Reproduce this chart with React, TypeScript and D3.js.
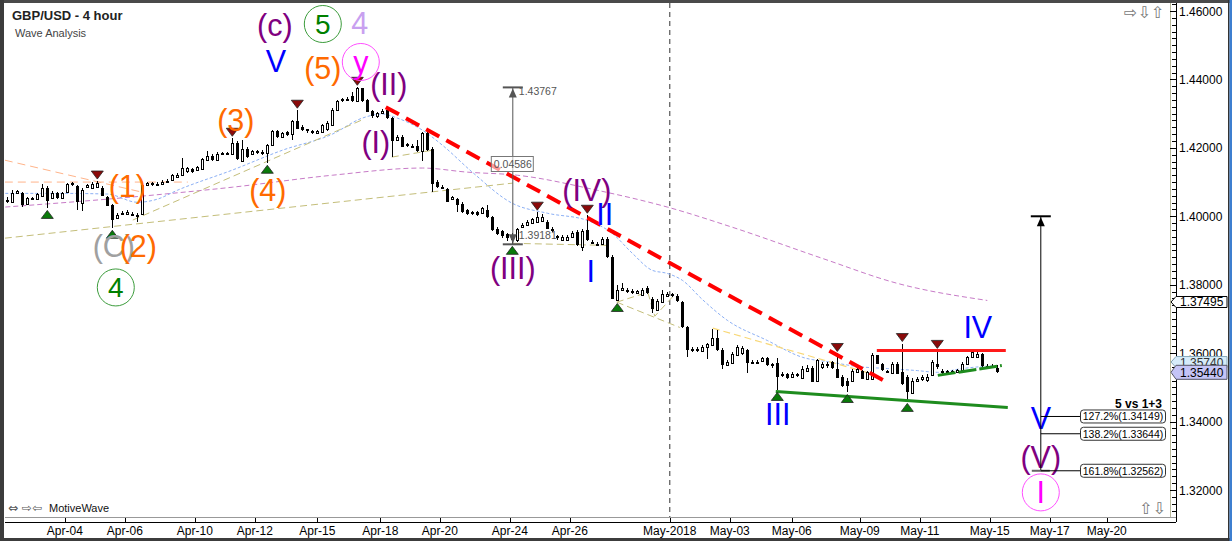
import React from 'react';
import * as d3 from 'd3';

type Candle = [number, number, number, number]; // open, high, low, close

const candles: Candle[] = [
  [1.4049,1.4057,1.4039,1.4042],[1.4042,1.4076,1.4038,1.4068],[1.4067,1.4076,1.4065,1.4074],[1.4068,1.4070,1.4027,1.4032],
  [1.4037,1.4056,1.4032,1.4054],[1.4049,1.4056,1.4047,1.4052],[1.4050,1.4067,1.4047,1.4064],[1.4062,1.4094,1.4059,1.4084],
  [1.4084,1.4088,1.4023,1.4047],[1.4052,1.4073,1.4050,1.4068],[1.4067,1.4070,1.4050,1.4052],[1.4052,1.4070,1.4050,1.4068],
  [1.4071,1.4097,1.4070,1.4094],[1.4096,1.4100,1.4088,1.4091],[1.4089,1.4091,1.4018,1.4042],[1.4039,1.4082,1.4015,1.4078],
  [1.4084,1.4094,1.4082,1.4090],[1.4081,1.4100,1.4079,1.4094],[1.4084,1.4103,1.4082,1.4096],[1.4084,1.4088,1.4059,1.4062],
  [1.4057,1.4059,1.4029,1.4032],[1.4032,1.4035,1.3965,1.3988],[1.3994,1.4009,1.3991,1.4003],[1.4006,1.4015,1.4003,1.4010],
  [1.4006,1.4018,1.4003,1.4013],[1.4008,1.4012,1.4000,1.4003],[1.4003,1.4009,1.3984,1.3998],[1.4006,1.4097,1.4003,1.4091],
  [1.4091,1.4100,1.4088,1.4096],[1.4096,1.4100,1.4088,1.4091],[1.4091,1.4100,1.4088,1.4095],[1.4093,1.4106,1.4091,1.4100],
  [1.4100,1.4108,1.4096,1.4104],[1.4106,1.4123,1.4103,1.4120],[1.4115,1.4126,1.4111,1.4122],[1.4120,1.4169,1.4117,1.4140],
  [1.4130,1.4144,1.4126,1.4140],[1.4138,1.4141,1.4126,1.4130],[1.4135,1.4146,1.4132,1.4143],[1.4137,1.4170,1.4135,1.4167],
  [1.4164,1.4191,1.4161,1.4176],[1.4176,1.4182,1.4161,1.4164],[1.4164,1.4187,1.4161,1.4182],[1.4182,1.4187,1.4179,1.4185],
  [1.4185,1.4187,1.4179,1.4183],[1.4184,1.4228,1.4182,1.4215],[1.4215,1.4220,1.4164,1.4169],[1.4164,1.4223,1.4161,1.4198],
  [1.4198,1.4202,1.4170,1.4174],[1.4182,1.4193,1.4179,1.4191],[1.4191,1.4193,1.4182,1.4185],[1.4188,1.4193,1.4179,1.4182],
  [1.4185,1.4211,1.4155,1.4208],[1.4208,1.4252,1.4205,1.4250],[1.4249,1.4252,1.4228,1.4231],[1.4232,1.4246,1.4231,1.4244],
  [1.4247,1.4249,1.4234,1.4237],[1.4240,1.4281,1.4223,1.4279],[1.4279,1.4310,1.4255,1.4257],[1.4261,1.4266,1.4249,1.4252],
  [1.4254,1.4255,1.4243,1.4247],[1.4250,1.4252,1.4240,1.4244],[1.4243,1.4252,1.4240,1.4249],[1.4247,1.4269,1.4246,1.4267],
  [1.4255,1.4278,1.4249,1.4272],[1.4267,1.4316,1.4264,1.4312],[1.4312,1.4340,1.4310,1.4338],[1.4338,1.4345,1.4334,1.4342],
  [1.4342,1.4348,1.4338,1.4343],[1.4352,1.4363,1.4334,1.4337],[1.4337,1.4377,1.4335,1.4374],[1.4374,1.4376,1.4334,1.4337],
  [1.4340,1.4343,1.4305,1.4305],[1.4307,1.4310,1.4287,1.4291],[1.4291,1.4305,1.4287,1.4301],[1.4301,1.4313,1.4299,1.4307],
  [1.4310,1.4319,1.4284,1.4286],[1.4286,1.4290,1.4174,1.4218],[1.4223,1.4237,1.4220,1.4232],[1.4232,1.4237,1.4202,1.4203],
  [1.4210,1.4214,1.4202,1.4203],[1.4206,1.4211,1.4199,1.4201],[1.4205,1.4223,1.4187,1.4190],[1.4190,1.4247,1.4161,1.4242],
  [1.4242,1.4246,1.4190,1.4193],[1.4198,1.4202,1.4070,1.4096],[1.4100,1.4106,1.4082,1.4086],[1.4086,1.4091,1.4079,1.4081],
  [1.4081,1.4082,1.4041,1.4042],[1.4050,1.4059,1.4047,1.4056],[1.4050,1.4053,1.4013,1.4032],[1.4037,1.4041,1.4009,1.4013],
  [1.4018,1.4021,1.4003,1.4005],[1.4008,1.4015,1.4003,1.4012],[1.4012,1.4015,1.4000,1.4003],[1.4008,1.4027,1.4006,1.4023],
  [1.4018,1.4032,1.3994,1.3998],[1.3998,1.4000,1.3956,1.3959],[1.3964,1.3968,1.3946,1.3950],[1.3956,1.3959,1.3936,1.3940],
  [1.3947,1.3950,1.3927,1.3935],[1.3944,1.3950,1.3918,1.3930],[1.3930,1.3965,1.3924,1.3962],[1.3967,1.3980,1.3965,1.3974],
  [1.3974,1.3988,1.3971,1.3984],[1.3979,1.3994,1.3977,1.3991],[1.3984,1.4012,1.3983,1.3998],[1.3986,1.4006,1.3986,1.3998],
  [1.3984,1.3988,1.3962,1.3964],[1.3964,1.3968,1.3953,1.3959],[1.3942,1.3946,1.3930,1.3936],[1.3932,1.3946,1.3930,1.3940],
  [1.3930,1.3946,1.3927,1.3940],[1.3938,1.3956,1.3936,1.3951],[1.3954,1.3959,1.3912,1.3915],[1.3910,1.3962,1.3900,1.3957],
  [1.3959,1.4003,1.3927,1.3930],[1.3925,1.3930,1.3918,1.3920],[1.3920,1.3924,1.3915,1.3918],[1.3920,1.3939,1.3918,1.3935],
  [1.3935,1.3939,1.3877,1.3881],[1.3881,1.3886,1.3757,1.3759],[1.3756,1.3798,1.3751,1.3786],[1.3782,1.3804,1.3781,1.3789],
  [1.3784,1.3790,1.3775,1.3779],[1.3781,1.3787,1.3772,1.3776],[1.3775,1.3784,1.3772,1.3781],[1.3769,1.3790,1.3766,1.3784],
  [1.3789,1.3795,1.3772,1.3774],[1.3757,1.3763,1.3716,1.3728],[1.3725,1.3757,1.3722,1.3751],[1.3749,1.3784,1.3746,1.3772],
  [1.3766,1.3778,1.3763,1.3773],[1.3772,1.3775,1.3763,1.3767],[1.3767,1.3772,1.3749,1.3751],[1.3749,1.3751,1.3673,1.3676],
  [1.3676,1.3678,1.3588,1.3608],[1.3611,1.3617,1.3602,1.3608],[1.3608,1.3617,1.3602,1.3611],[1.3606,1.3623,1.3602,1.3618],
  [1.3616,1.3631,1.3582,1.3626],[1.3623,1.3670,1.3620,1.3643],[1.3643,1.3667,1.3605,1.3608],[1.3608,1.3614,1.3555,1.3564],
  [1.3564,1.3579,1.3561,1.3574],[1.3570,1.3602,1.3567,1.3597],[1.3594,1.3623,1.3591,1.3617],[1.3599,1.3620,1.3596,1.3614],
  [1.3608,1.3611,1.3541,1.3570],[1.3573,1.3579,1.3567,1.3570],[1.3572,1.3579,1.3567,1.3573],[1.3576,1.3588,1.3573,1.3585],
  [1.3585,1.3588,1.3561,1.3564],[1.3567,1.3570,1.3558,1.3563],[1.3570,1.3585,1.3491,1.3529],[1.3535,1.3544,1.3529,1.3539],
  [1.3538,1.3541,1.3523,1.3526],[1.3529,1.3544,1.3526,1.3539],[1.3535,1.3541,1.3529,1.3538],[1.3529,1.3561,1.3526,1.3554],
  [1.3549,1.3564,1.3547,1.3558],[1.3558,1.3561,1.3515,1.3518],[1.3518,1.3582,1.3515,1.3579],[1.3559,1.3573,1.3555,1.3569],
  [1.3567,1.3573,1.3558,1.3564],[1.3573,1.3576,1.3553,1.3555],[1.3555,1.3599,1.3526,1.3530],[1.3530,1.3535,1.3500,1.3504],
  [1.3520,1.3526,1.3485,1.3506],[1.3520,1.3555,1.3515,1.3549],[1.3545,1.3558,1.3541,1.3554],[1.3549,1.3552,1.3523,1.3525],
  [1.3525,1.3549,1.3523,1.3545],[1.3525,1.3599,1.3523,1.3594],[1.3594,1.3596,1.3567,1.3569],[1.3567,1.3570,1.3547,1.3549],
  [1.3549,1.3552,1.3541,1.3547],[1.3542,1.3573,1.3541,1.3569],[1.3569,1.3573,1.3538,1.3540],[1.3545,1.3628,1.3506,1.3511],
  [1.3530,1.3535,1.3459,1.3486],[1.3486,1.3526,1.3485,1.3520],[1.3520,1.3529,1.3515,1.3525],[1.3523,1.3535,1.3520,1.3529],
  [1.3520,1.3538,1.3515,1.3530],[1.3535,1.3579,1.3532,1.3574],[1.3569,1.3608,1.3555,1.3559],[1.3549,1.3555,1.3538,1.3544],
  [1.3544,1.3552,1.3541,1.3547],[1.3547,1.3552,1.3541,1.3544],[1.3545,1.3555,1.3544,1.3552],[1.3552,1.3573,1.3549,1.3569],
  [1.3569,1.3593,1.3567,1.3588],[1.3588,1.3608,1.3588,1.3603],[1.3588,1.3602,1.3588,1.3597],[1.3597,1.3599,1.3558,1.3561],
  [1.3561,1.3567,1.3555,1.3558],[1.3561,1.3567,1.3558,1.3563],[1.3557,1.3564,1.3541,1.3544],
];

const dateTicks: [string, number][] = [
  ['Apr-04', 11.5], ['Apr-06', 23.5], ['Apr-10', 37.5], ['Apr-12', 49.5], ['Apr-15', 62], ['Apr-18', 74.6],
  ['Apr-20', 86.5], ['Apr-24', 100.5], ['Apr-26', 112.5], ['May-2018', 132.5], ['May-03', 144.5], ['May-06', 156.9],
  ['May-09', 170.5], ['May-11', 182.5], ['May-15', 196.5], ['May-17', 208.5], ['May-20', 219.9],
];

const priceTicks = [1.32, 1.34, 1.36, 1.38, 1.40, 1.42, 1.44, 1.46];

const fastMA: [number, number][] = [
  [-0.4, 1.4067], [10, 1.4067], [20, 1.4065], [26, 1.4041], [30, 1.4050], [34, 1.4076], [45, 1.4135], [55, 1.4193],
  [65, 1.4240], [71, 1.4287], [75, 1.4299], [78, 1.4287], [83, 1.4252], [87, 1.4208], [93, 1.4129], [101, 1.4038],
  [108, 1.4009], [116, 1.3988], [121, 1.3950], [125, 1.3892], [129, 1.3842], [132, 1.3833], [135, 1.3813],
  [139, 1.3757], [144, 1.3696], [152, 1.3637], [159, 1.3588], [165, 1.3573], [170, 1.3561], [176, 1.3555],
  [182, 1.3549], [186, 1.3544], [191, 1.3555], [198, 1.3564],
];

const slowMA: [number, number][] = [
  [-0.4, 1.4027], [27, 1.4059], [45, 1.4085], [65, 1.4120], [83, 1.4141], [92, 1.4129], [102, 1.4120],
  [118, 1.4076], [132, 1.4027], [145, 1.3968], [163, 1.3877], [178, 1.3804], [196, 1.3754],
];

// thin wave connection lines [i, price]
const oliveLines: [number, number][][] = [
  [[-0.5, 1.3936], [101.1, 1.4097]],
  [[25.1, 1.3989], [71, 1.4282]],
  [[76.9, 1.4173], [85, 1.4193]],
  [[101.1, 1.3921], [119.9, 1.3915]],
  [[121.9, 1.3749], [128.1, 1.3778], [129.5, 1.3708], [133.7, 1.3775]],
  [[121.9, 1.3749], [134.5, 1.3675]],
];
const yellowLine: [number, number][] = [[141.1, 1.3673], [172.5, 1.3541]];
const orangeLines: [number, number][][] = [
  [[-0.5, 1.4164], [27.1, 1.4070]],
  [[-0.5, 1.4100], [36.1, 1.4100]],
];

const redTrend: [number, number][] = [[75.7, 1.4319], [175.9, 1.3515]];
const redFlat: [number, number][] = [[173.9, 1.3608], [199.7, 1.3608]];
const greenLong: [number, number][] = [[153.7, 1.3488], [200.1, 1.3441]];
const greenShort: [number, number][] = [[186.1, 1.3535], [198.9, 1.3564]];

const topMarks = [18, 45, 58, 70, 106, 116, 166, 179, 186];
const bottomMarks = [8, 21, 52, 101, 122, 154, 168, 180];

type Label = { t: string; i: number; p: number; c: string; ring?: string; fs?: number };
const waveLabels: Label[] = [
  { t: '(c)', i: 53.5, p: 1.4559, c: '#800080' },
  { t: '5', i: 63.1, p: 1.4562, c: '#008000', ring: '#3c9c3c', fs: 28 },
  { t: '4', i: 70.5, p: 1.4565, c: '#C8A0F0' },
  { t: 'V', i: 53.7, p: 1.4454, c: '#0000FF' },
  { t: '(5)', i: 63.1, p: 1.4433, c: '#FF6A00' },
  { t: 'y', i: 70.7, p: 1.4451, c: '#FF00FF', ring: '#FF50FF' },
  { t: '(II)', i: 76.3, p: 1.4386, c: '#800080' },
  { t: '(I)', i: 73.7, p: 1.4217, c: '#800080' },
  { t: '(3)', i: 45.7, p: 1.4281, c: '#FF6A00' },
  { t: '(4)', i: 52.1, p: 1.4076, c: '#FF6A00' },
  { t: '(1)', i: 24, p: 1.4088, c: '#FF6A00' },
  { t: '(C)', i: 21.3, p: 1.3912, c: '#A0A0A0' },
  { t: '(2)', i: 26.2, p: 1.3912, c: '#FF6A00' },
  { t: '4', i: 21.7, p: 1.3792, c: '#008000', ring: '#3c9c3c', fs: 28 },
  { t: '(III)', i: 101.1, p: 1.3848, c: '#800080' },
  { t: '(IV)', i: 115.9, p: 1.4076, c: '#800080' },
  { t: 'II', i: 119.5, p: 1.4006, c: '#0000FF' },
  { t: 'I', i: 116.7, p: 1.3839, c: '#0000FF' },
  { t: 'III', i: 154.1, p: 1.3421, c: '#0000FF' },
  { t: 'IV', i: 194.1, p: 1.3675, c: '#0000FF' },
  { t: 'V', i: 206.7, p: 1.3409, c: '#0000FF' },
  { t: '(V)', i: 206.7, p: 1.3295, c: '#800080' },
  { t: 'I', i: 206.7, p: 1.3193, c: '#FF00FF', ring: '#FF50FF' },
];

const measureLeft = { i: 101.1, top: 1.43767, bottom: 1.39181, diff: '0.04586' };
const measureRight = { i: 206.7, top: 1.4000, bottom: 1.32562 };
const fibLevels: [string, number][] = [
  ['127.2%(1.34149)', 1.34149],
  ['138.2%(1.33644)', 1.33644],
  ['161.8%(1.32562)', 1.32562],
];
const lastPrice = 1.3544;
const refPrice = 1.37495;
const bidPrice = 1.3574;

const FONT = "'Liberation Sans', Arial, Helvetica, sans-serif";

export default function App() {
  const W = 1232, H = 541;
  const x = d3.scaleLinear().domain([0, 198]).range([7.3, 997.3]);
  const y = d3.scaleLinear().domain([1.32, 1.46]).range([490, 11]);
  const line = d3.line<[number, number]>().x(d => x(d[0])).y(d => y(d[1]));
  const smooth = d3.line<[number, number]>().x(d => x(d[0])).y(d => y(d[1])).curve(d3.curveMonotoneX);
  const minor = d3.range(1.314, 1.4625, 0.002);
  const axX = 1176;

  const tag = (yc: number, h: number) =>
    `M1171,${yc} L1176,${yc - h / 2} L1227,${yc - h / 2} L1227,${yc + h / 2} L1176,${yc + h / 2} Z`;

  const mlx = x(measureLeft.i);
  const mly1 = y(measureLeft.top), mly2 = y(measureLeft.bottom);
  const mrx = x(measureRight.i);
  const mry1 = y(measureRight.top), mry2 = y(measureRight.bottom);

  return (
    <svg width={W} height={H} viewBox={`0 0 ${W} ${H}`}
      style={{ position: 'absolute', left: 0, top: 0, background: '#fff', fontFamily: FONT }}>
      <defs>
        <clipPath id="plot"><rect x={5} y={3} width={1165} height={514} /></clipPath>
      </defs>
      <rect x={0} y={0} width={W} height={H} fill="#fff" />

      <g clipPath="url(#plot)">
        {/* May-2018 separator */}
        <line x1={x(132.5)} x2={x(132.5)} y1={3} y2={517} stroke="#333" strokeDasharray="5,4" />

        {/* moving averages */}
        <path d={smooth(slowMA) || ''} fill="none" stroke="#C77BC7" strokeWidth={1} strokeDasharray="5,3" />
        <path d={smooth(fastMA) || ''} fill="none" stroke="#8CB0F5" strokeWidth={1} strokeDasharray="3,2" />

        {/* wave guide lines */}
        {oliveLines.map((l, k) => (
          <path key={'o' + k} d={line(l) || ''} fill="none" stroke="#C4BE7A" strokeWidth={1} strokeDasharray="7,4" />
        ))}
        {orangeLines.map((l, k) => (
          <path key={'or' + k} d={line(l) || ''} fill="none" stroke="#FFB48A" strokeWidth={1} strokeDasharray="8,5" />
        ))}
        <path d={line(yellowLine) || ''} fill="none" stroke="#F8D878" strokeWidth={1.2} strokeDasharray="7,4" />

        {/* candles */}
        {candles.map((c, i) => {
          const [o, h, l, cl] = c;
          const cx = Math.round(x(i));
          const hi = y(Math.max(h, o, cl)), lo = y(Math.min(l, o, cl));
          const top = y(Math.max(o, cl)), bot = y(Math.min(o, cl));
          const up = cl >= o;
          return (
            <g key={i} shapeRendering="crispEdges">
              <line x1={cx + 0.5} x2={cx + 0.5} y1={hi} y2={lo} stroke="#000" strokeWidth={1} />
              {up ? (
                <rect x={cx - 0.5} y={Math.round(top) + 0.5} width={2} height={Math.max(1, Math.round(bot - top))}
                  fill="#fff" stroke="#000" strokeWidth={1} />
              ) : (
                <rect x={cx - 1} y={Math.round(top)} width={3} height={Math.max(1.5, Math.round(bot - top))} fill="#000" />
              )}
            </g>
          );
        })}

        {/* trend lines */}
        <path d={line(redTrend) || ''} fill="none" stroke="#FF0000" strokeWidth={4} strokeDasharray="15,8" />
        <path d={line(redFlat) || ''} fill="none" stroke="#FF1A1A" strokeWidth={3} />
        <path d={line(greenLong) || ''} fill="none" stroke="#1E8C1E" strokeWidth={3} />
        <path d={line(greenShort) || ''} fill="none" stroke="#1E8C1E" strokeWidth={3} strokeDasharray="18,3" />

        {/* pivot markers */}
        {topMarks.map(i => {
          const cx = x(i), t = y(candles[i][1]) - 2;
          return <path key={'t' + i} d={`M${cx - 6},${t - 8} L${cx + 6},${t - 8} L${cx},${t} Z`} fill="#8B0A0A" stroke="#222" strokeWidth={0.8} />;
        })}
        {bottomMarks.map(i => {
          const cx = x(i), b = y(candles[i][2]) + 2;
          return <path key={'b' + i} d={`M${cx - 6},${b + 8} L${cx + 6},${b + 8} L${cx},${b} Z`} fill="#0A7A0A" stroke="#222" strokeWidth={0.8} />;
        })}

        {/* left measurement */}
        <g stroke="#555" fill="#555">
          <line x1={mlx} x2={mlx} y1={mly1} y2={mly2} strokeWidth={1} />
          <line x1={mlx - 10} x2={mlx + 10} y1={mly1} y2={mly1} strokeWidth={2} />
          <line x1={mlx - 10} x2={mlx + 10} y1={mly2} y2={mly2} strokeWidth={2} />
          <path d={`M${mlx},${mly1 + 1} L${mlx - 4},${mly1 + 10} L${mlx + 4},${mly1 + 10} Z`} stroke="none" />
          <path d={`M${mlx},${mly2 - 1} L${mlx - 4},${mly2 - 10} L${mlx + 4},${mly2 - 10} Z`} stroke="none" />
        </g>
        <text x={mlx + 6} y={mly1 + 8} fontSize={10.5} fill="#555">{measureLeft.top.toFixed(5)}</text>
        <text x={mlx + 6} y={mly2 - 5} fontSize={10.5} fill="#555">{measureLeft.bottom.toFixed(5)}</text>
        <rect x={mlx - 21.5} y={156.5} width={42} height={15} fill="#fff" fillOpacity={0.6} stroke="#777" />
        <text x={mlx} y={168} fontSize={10.5} fill="#555" textAnchor="middle">{measureLeft.diff}</text>

        {/* wave labels */}
        {waveLabels.map((lb, k) => (
          <g key={'l' + k}>
            {lb.ring && <circle cx={x(lb.i)} cy={y(lb.p)} r={18.5} fill="none" stroke={lb.ring} strokeWidth={1} />}
            <text x={x(lb.i)} y={y(lb.p)} fontSize={lb.fs || 30.5} fill={lb.c} textAnchor="middle"
              dominantBaseline="central">{lb.t}</text>
          </g>
        ))}

        {/* right measurement with fib projections */}
        <g>
          <line x1={mrx} x2={mrx} y1={mry1} y2={mry2} stroke="#000" strokeWidth={1} />
          <line x1={mrx - 10} x2={mrx + 10} y1={mry1} y2={mry1} stroke="#000" strokeWidth={2} />
          <path d={`M${mrx},${mry1 + 1} L${mrx - 4},${mry1 + 10} L${mrx + 4},${mry1 + 10} Z`} fill="#000" />
          <line x1={mrx - 9} x2={mrx + 9} y1={mry2} y2={mry2} stroke="#666" strokeWidth={2} />
          {fibLevels.map(([t, p]) => (
            <g key={t}>
              <line x1={mrx} x2={1080} y1={y(p)} y2={y(p)} stroke="#000" strokeWidth={1} />
              <rect x={1080.5} y={y(p) - 6.5} width={85} height={13} rx={3} fill="#fff" stroke="#333" />
              <text x={1123} y={y(p) + 4} fontSize={10.5} textAnchor="middle" fill="#000">{t}</text>
            </g>
          ))}
          <text x={1162} y={y(1.3452)} fontSize={12} fontWeight="bold" textAnchor="end" dominantBaseline="central" fill="#000">5 vs 1+3</text>
        </g>
      </g>

      {/* headings */}
      <text x={12} y={20} fontSize={13} fontWeight="bold" fill="#222">GBP/USD - 4 hour</text>
      <text x={15} y={37} fontSize={11} fill="#444">Wave Analysis</text>
      <text x={8} y={512} fontSize={12} fill="#555" fontFamily="'DejaVu Sans', sans-serif">⇔ ⇨⇦</text>
      <text x={49} y={512} fontSize={11} fill="#111">MotiveWave</text>
      <text x={1124} y={18} fontSize={16} fill="#777" fontFamily="'DejaVu Sans', sans-serif">⇨⇩⇧</text>
      <text x={1139} y={514} fontSize={16} fill="#777" fontFamily="'DejaVu Sans', sans-serif">⇧⇩</text>

      {/* time axis */}
      <line x1={5} x2={axX} y1={517.5} y2={517.5} stroke="#999" strokeWidth={1} />
      <line x1={5} x2={axX} y1={522.5} y2={522.5} stroke="#000" strokeWidth={1} />
      {dateTicks.map(([lbl, i]) => (
        <g key={lbl}>
          <line x1={Math.round(x(i)) + 0.5} x2={Math.round(x(i)) + 0.5} y1={518} y2={522} stroke="#000" />
          <text x={x(i)} y={535} fontSize={12} textAnchor="middle" fill="#000">{lbl}</text>
        </g>
      ))}

      {/* price axis */}
      <line x1={1170.5} x2={1170.5} y1={3} y2={517} stroke="#B8B89A" strokeWidth={1} />
      <line x1={axX + 0.5} x2={axX + 0.5} y1={3} y2={522} stroke="#000" strokeWidth={1} />
      {minor.map((p, k) => (
        <line key={'m' + k} x1={1172} x2={axX} y1={Math.round(y(p)) + 0.5} y2={Math.round(y(p)) + 0.5} stroke="#000" />
      ))}
      {priceTicks.map(p => (
        <g key={p}>
          <line x1={1170} x2={axX} y1={Math.round(y(p)) + 0.5} y2={Math.round(y(p)) + 0.5} stroke="#000" />
          <text x={1179} y={y(p) + 4.5} fontSize={12} fill="#000">{p.toFixed(5)}</text>
        </g>
      ))}
      <path d={tag(y(refPrice), 11)} fill="#fff" stroke="#000" />
      <text x={1180} y={y(refPrice) + 4.5} fontSize={12} fill="#000">{refPrice.toFixed(5)}</text>
      <path d={tag(y(bidPrice), 11)} fill="#D6ECFA" stroke="#8AB" />
      <text x={1180} y={y(bidPrice) + 4.5} fontSize={12} fill="#333">{bidPrice.toFixed(5)}</text>
      <path d={tag(y(lastPrice), 14)} fill="#C4C4F6" stroke="#556" />
      <text x={1180} y={y(lastPrice) + 4.5} fontSize={12} fill="#000">{lastPrice.toFixed(5)}</text>

      {/* frame */}
      <rect x={0} y={0} width={W} height={3} fill="#4a4a4a" />
      <rect x={0} y={0} width={4} height={H} fill="#3c3c3c" />
      <rect x={0} y={538} width={W} height={3} fill="#3c3c3c" />
      <rect x={1228} y={0} width={1.5} height={H} fill="#333" />
      <rect x={1229.5} y={0} width={2.5} height={H} fill="#3d7fd0" />
    </svg>
  );
}
